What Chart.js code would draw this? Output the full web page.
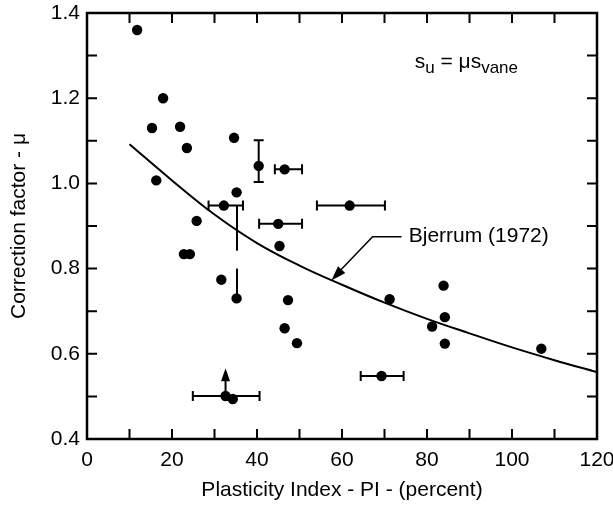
<!DOCTYPE html>
<html>
<head>
<meta charset="utf-8">
<title>Vane correction factor vs PI</title>
<script src="https://cdn.jsdelivr.net/npm/chart.js@4.4.0/dist/chart.umd.min.js"></script>
<style>
  html, body { margin: 0; padding: 0; background: #fff; }
  #wrap { width: 613px; height: 506px; }
</style>
</head>
<body>
<div id="wrap"><canvas id="myChart" width="613" height="506"></canvas></div>
<script>
// measured points (PI, mu)
const piValues = [11.8, 17.9, 15.3, 21.9, 23.5, 16.3, 34.6, 40.4, 46.5, 35.2, 32.2, 45.0, 25.8, 45.3, 61.8,
                  22.8, 24.2, 31.6, 35.2, 47.3, 46.5, 49.4, 32.6, 34.3, 83.9, 71.2, 84.2, 81.2, 84.2, 106.9, 69.3];
const muValues = [1.36, 1.20, 1.13, 1.133, 1.083, 1.007, 1.107, 1.041, 1.033, 0.979, 0.948, 0.905, 0.912, 0.853, 0.948,
                  0.834, 0.834, 0.774, 0.730, 0.726, 0.660, 0.625, 0.501, 0.494, 0.760, 0.728, 0.686, 0.664, 0.624, 0.612, 0.548];

// Bjerrum (1972) curve
const curvePI = [10, 20, 30, 40, 50, 60, 70, 80, 90, 100, 110, 120];
const curveMu = [1.092, 1.007, 0.927, 0.860, 0.807, 0.762, 0.72, 0.682, 0.648, 0.615, 0.585, 0.557];

// horizontal range bars (PI range at a given mu)
const hBarMu = [1.033, 0.948, 0.905, 0.948, 0.501, 0.548];
const hBarLo = [44.2, 28.6, 40.5, 54.1, 24.9, 64.4];
const hBarHi = [50.6, 36.7, 50.6, 70.1, 40.6, 74.5];

// vertical range bar with caps
const vBarPI = [40.4];
const vBarLo = [1.003];
const vBarHi = [1.101];

// vertical lines without caps
const vLinePI = [35.3, 35.3];
const vLineLo = [0.842, 0.730];
const vLineHi = [0.948, 0.800];

// upward arrow (lower bound)
const arrowPI = [32.6];
const arrowFrom = [0.501];
const arrowTo = [0.566];

const xTicks = { min: 0, max: 120, step: 10, labelEvery: 20 };
const yTicks = { min: 0.4, max: 1.4, step: 0.1 };

const FONT = '"Liberation Sans", Arial, Helvetica, sans-serif';

// tick marks inside the frame + box
const frameTicks = {
    id: 'frameTicks',
    afterDraw(chart) {
        const { ctx, chartArea: a, scales: { x, y } } = chart;
        ctx.save();
        ctx.strokeStyle = '#000';
        ctx.lineWidth = 2;
        ctx.beginPath();
        x.ticks.forEach(t => {
            if (t.value <= x.min || t.value >= x.max) return;
            const px = x.getPixelForValue(t.value);
            ctx.moveTo(px, a.bottom); ctx.lineTo(px, a.bottom - 10);
            ctx.moveTo(px, a.top); ctx.lineTo(px, a.top + 10);
        });
        y.ticks.forEach(t => {
            if (t.value <= y.min + 1e-6 || t.value >= y.max - 1e-6) return;
            const py = y.getPixelForValue(t.value);
            ctx.moveTo(a.left, py); ctx.lineTo(a.left + 10, py);
            ctx.moveTo(a.right, py); ctx.lineTo(a.right - 10, py);
        });
        ctx.stroke();
        ctx.lineWidth = 2.5;
        ctx.strokeRect(a.left, a.top, a.width, a.height);
        ctx.restore();
    }
};

function arrowHead(ctx, fromX, fromY, toX, toY, len, half) {
    const ang = Math.atan2(toY - fromY, toX - fromX);
    ctx.beginPath();
    ctx.moveTo(toX, toY);
    ctx.lineTo(toX - len * Math.cos(ang) + half * Math.sin(ang), toY - len * Math.sin(ang) - half * Math.cos(ang));
    ctx.lineTo(toX - len * Math.cos(ang) - half * Math.sin(ang), toY - len * Math.sin(ang) + half * Math.cos(ang));
    ctx.closePath();
    ctx.fill();
}

// range bars, arrows and text notes
const extras = {
    id: 'extras',
    afterDatasetsDraw(chart) {
        const { ctx, scales: { x, y } } = chart;
        ctx.save();
        ctx.strokeStyle = '#000';
        ctx.fillStyle = '#000';
        ctx.lineWidth = 2;
        const cap = 5;

        hBarMu.forEach((mu, i) => {
            const py = y.getPixelForValue(mu);
            const x1 = x.getPixelForValue(hBarLo[i]);
            const x2 = x.getPixelForValue(hBarHi[i]);
            ctx.beginPath();
            ctx.moveTo(x1, py); ctx.lineTo(x2, py);
            ctx.moveTo(x1, py - cap); ctx.lineTo(x1, py + cap);
            ctx.moveTo(x2, py - cap); ctx.lineTo(x2, py + cap);
            ctx.stroke();
        });

        vBarPI.forEach((pi, i) => {
            const px = x.getPixelForValue(pi);
            const y1 = y.getPixelForValue(vBarLo[i]);
            const y2 = y.getPixelForValue(vBarHi[i]);
            ctx.beginPath();
            ctx.moveTo(px, y1); ctx.lineTo(px, y2);
            ctx.moveTo(px - cap, y1); ctx.lineTo(px + cap, y1);
            ctx.moveTo(px - cap, y2); ctx.lineTo(px + cap, y2);
            ctx.stroke();
        });

        vLinePI.forEach((pi, i) => {
            const px = x.getPixelForValue(pi);
            ctx.beginPath();
            ctx.moveTo(px, y.getPixelForValue(vLineLo[i]));
            ctx.lineTo(px, y.getPixelForValue(vLineHi[i]));
            ctx.stroke();
        });

        arrowPI.forEach((pi, i) => {
            const px = x.getPixelForValue(pi);
            const y1 = y.getPixelForValue(arrowFrom[i]);
            const y2 = y.getPixelForValue(arrowTo[i]);
            ctx.beginPath();
            ctx.moveTo(px, y1); ctx.lineTo(px, y2 + 10);
            ctx.stroke();
            arrowHead(ctx, px, y1, px, y2, 13, 4.5);
        });

        // Bjerrum leader line
        const tipX = x.getPixelForValue(57.5), tipY = y.getPixelForValue(0.772);
        const kneeX = x.getPixelForValue(67.2), lblY = y.getPixelForValue(0.875);
        const endX = x.getPixelForValue(74.0);
        ctx.lineWidth = 1.5;
        ctx.beginPath();
        ctx.moveTo(endX, lblY); ctx.lineTo(kneeX, lblY); ctx.lineTo(tipX + 6, tipY - 7);
        ctx.stroke();
        arrowHead(ctx, kneeX, lblY, tipX, tipY, 15, 5);

        ctx.font = '21px ' + FONT;
        ctx.textBaseline = 'middle';
        ctx.textAlign = 'left';
        ctx.fillText('Bjerrum (1972)', x.getPixelForValue(75.7), lblY);

        // s_u = mu s_vane
        let tx = x.getPixelForValue(77.1);
        const base = y.getPixelForValue(1.272);
        const big = '21px ' + FONT, small = '17px ' + FONT;
        ctx.textBaseline = 'alphabetic';
        const parts = [['s', big, 0], ['u', small, 5], [' = \u03BCs', big, 0], ['vane', small, 5]];
        parts.forEach(([txt, f, dy]) => {
            ctx.font = f;
            ctx.fillText(txt, tx, base + dy);
            tx += ctx.measureText(txt).width;
        });
        ctx.restore();
    }
};

const ctx = document.getElementById('myChart').getContext('2d');
new Chart(ctx, {
    data: {
        datasets: [
            {
                type: 'scatter',
                label: 'Data',
                data: piValues.map((v, i) => ({ x: v, y: muValues[i] })),
                backgroundColor: '#000',
                borderWidth: 0,
                pointRadius: 5.2,
                pointHoverRadius: 5.2
            },
            {
                type: 'line',
                label: 'Bjerrum (1972)',
                data: curvePI.map((v, i) => ({ x: v, y: curveMu[i] })),
                borderColor: '#000',
                borderWidth: 2,
                pointRadius: 0,
                fill: false,
                tension: 0.4
            }
        ]
    },
    options: {
        responsive: false,
        animation: false,
        layout: { padding: { top: 13, right: 16, left: 0, bottom: 0 } },
        plugins: {
            legend: { display: false },
            tooltip: { enabled: false }
        },
        scales: {
            x: {
                type: 'linear',
                position: 'bottom',
                min: xTicks.min,
                max: xTicks.max,
                grid: { display: false, drawTicks: false },
                border: { display: false },
                ticks: {
                    stepSize: xTicks.step,
                    autoSkip: false,
                    maxRotation: 0,
                    padding: 9,
                    color: '#000',
                    font: { family: FONT, size: 21 },
                    callback: v => (v % xTicks.labelEvery === 0 ? v : '')
                },
                title: {
                    display: true,
                    text: 'Plasticity Index - PI - (percent)',
                    color: '#000',
                    font: { family: FONT, size: 21 },
                    padding: { top: 0, bottom: 3 }
                },
                afterFit: s => { s.height = 67; s.paddingLeft = 0; s.paddingRight = 0; }
            },
            y: {
                type: 'linear',
                position: 'left',
                min: yTicks.min,
                max: yTicks.max,
                grid: { display: false, drawTicks: false },
                border: { display: false },
                ticks: {
                    stepSize: yTicks.step,
                    autoSkip: false,
                    padding: 7,
                    color: '#000',
                    font: { family: FONT, size: 21 },
                    callback: v => (Math.round(v * 10) % 2 === 0 ? v.toFixed(1) : '')
                },
                title: {
                    display: true,
                    text: 'Correction factor - \u03BC',
                    color: '#000',
                    font: { family: FONT, size: 21 },
                    padding: { top: 7, bottom: 0 }
                },
                afterFit: s => { s.width = 87; s.paddingTop = 0; s.paddingBottom = 0; }
            }
        }
    },
    plugins: [extras, frameTicks]
});
</script>
</body>
</html>
